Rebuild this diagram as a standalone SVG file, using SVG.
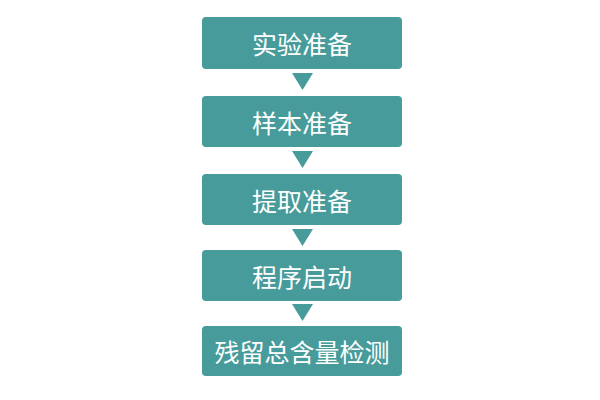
<svg xmlns="http://www.w3.org/2000/svg" width="600" height="400" viewBox="0 0 600 400">
<style>
.box{fill:#479b9b;}
.lbl{fill:#ffffff;font-family:"Noto Sans CJK SC","Noto Sans",sans-serif;font-size:25px;text-anchor:middle;dominant-baseline:central;}
.arr{fill:#479b9b;}
</style>
<rect width="600" height="400" fill="#ffffff"/>
<g id="connectors">
<polygon class="arr" points="292,73 313,73 302.5,90"/>
<polygon class="arr" points="292,151 313,151 302.5,168"/>
<polygon class="arr" points="292,229 313,229 302.5,246"/>
<polygon class="arr" points="292,304 313,304 302.5,321"/>
</g>
<g id="n1"><rect class="box" x="202" y="17" width="200" height="52" rx="4"/><text class="lbl" x="302" y="43">实验准备</text></g>
<g id="n2"><rect class="box" x="202" y="96" width="200" height="51" rx="4"/><text class="lbl" x="302" y="121.5">样本准备</text></g>
<g id="n3"><rect class="box" x="202" y="174" width="200" height="51" rx="4"/><text class="lbl" x="302" y="199.5">提取准备</text></g>
<g id="n4"><rect class="box" x="202" y="250" width="200" height="51" rx="4"/><text class="lbl" x="302" y="275.5">程序启动</text></g>
<g id="n5"><rect class="box" x="202" y="326" width="200" height="50" rx="4"/><text class="lbl" x="302" y="351">残留总含量检测</text></g>
</svg>
